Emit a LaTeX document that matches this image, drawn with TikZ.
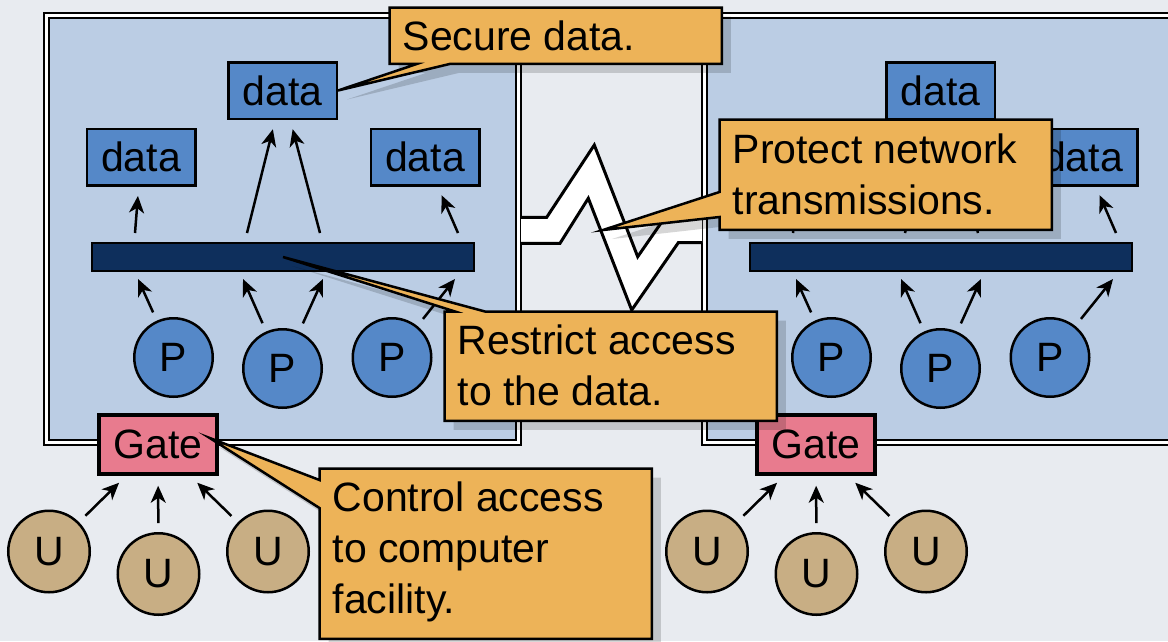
\documentclass[tikz,border=0pt]{standalone}
\usepackage{fontspec}
\setmainfont{Liberation Sans}
\usetikzlibrary{arrows.meta,calc,shadows}
\definecolor{bgc}{HTML}{E8EBF0}
\definecolor{boxblue}{HTML}{BBCDE4}
\definecolor{datablue}{HTML}{5588C8}
\definecolor{barnavy}{HTML}{0E2F5C}
\definecolor{gatepink}{HTML}{E87B8E}
\definecolor{usertan}{HTML}{C8AE84}
\definecolor{callorange}{HTML}{EDB358}
\pgfdeclarelayer{callouts}
\pgfdeclarelayer{callouttext}
\pgfsetlayers{main,callouts,callouttext}
\begin{document}
\begin{tikzpicture}[x=1pt,y=-1pt,
  every node/.style={font=\fontsize{41}{51}\selectfont},
  frame/.style={draw=black, double=white, double distance=3pt, line width=2pt},
  databox/.style={draw=black, line width=2.5pt, fill=datablue, minimum width=108.5pt, minimum height=56.5pt, inner sep=0pt},
  proc/.style={circle, draw=black, line width=2.5pt, fill=datablue, minimum size=78.5pt, inner sep=0pt},
  user/.style={circle, draw=black, line width=2.5pt, fill=usertan, minimum size=81.5pt, inner sep=0pt},
  gatebox/.style={draw=black, line width=3.5pt, fill=gatepink, minimum width=118pt, minimum height=59pt, inner sep=0pt},
  busbar/.style={draw=black, line width=2pt, fill=barnavy, minimum width=382pt, minimum height=28pt, inner sep=0pt},
  arr/.style={line width=2.5pt, -{Stealth[length=17pt,width=15pt,inset=5pt]}},
  zzline/.style={draw=black, line width=3pt, line join=miter},
  calltext/.style={anchor=north west, inner xsep=13pt, inner ysep=0pt, text height=42.5pt},
  callshape/.style={draw=black, line width=2.5pt, fill=callorange, line join=miter,
    drop shadow={shadow xshift=9pt, shadow yshift=-9pt, fill=black, opacity=0.16}}
]
\fill[bgc] (0,0) rectangle (1168,641);
\useasboundingbox (0,0) rectangle (1168,641);

\foreach \s/\dx in {L/0,R/658}{
  \begin{scope}[xshift=\dx pt]
    \fill[boxblue] (46.5,15.5) rectangle (518.5,442);
    \draw[frame] (46.5,15.5) rectangle (518.5,442);
    \node[databox] (\s-d2) at (282.5,90.5) {data};
    \node[databox] (\s-d3) at (425,157) {data};
    \node[busbar] (\s-bar) at (283,257) {};
    \coordinate (\s-s1) at (135,233);
    \coordinate (\s-s2) at (247,233);
    \coordinate (\s-s3) at (320,233);
    \coordinate (\s-s4) at (458,233);
    \draw[arr, shorten >=9.5pt] (\s-s2) -- (\s-d2);
    \draw[arr, shorten >=9.5pt] (\s-s3) -- (\s-d2);
    \draw[arr, shorten >=9.5pt] (\s-s4) -- (\s-d3);
    \node[proc] (\s-p1) at (173.5,357.5) {P};
    \node[proc] (\s-p2) at (282.5,368.5) {P};
    \node[proc] (\s-p3) at (392,357.5) {P};
    \coordinate (\s-t1) at (138,279);
    \coordinate (\s-t2) at (243,279);
    \coordinate (\s-t3) at (323,279);
    \coordinate (\s-t4) at (455,279);
    \draw[arr, shorten <=9pt] (\s-p1) -- (\s-t1);
    \draw[arr, shorten <=9pt] (\s-p2) -- (\s-t2);
    \draw[arr, shorten <=9pt] (\s-p2) -- (\s-t3);
    \draw[arr, shorten <=9pt] (\s-p3) -- (\s-t4);
    \node[gatebox] (\s-g) at (158,444.5) {Gate};
    \node[user] (\s-u1) at (49,551.5) {U};
    \node[user] (\s-u2) at (158.5,574) {U};
    \node[user] (\s-u3) at (268,551.5) {U};
    \draw[arr, shorten <=9pt, shorten >=10pt] (\s-u1) -- (\s-g);
    \draw[arr, shorten <=9pt, shorten >=10pt] (\s-u2) -- (\s-g);
    \draw[arr, shorten <=9pt, shorten >=10pt] (\s-u3) -- (\s-g);
  \end{scope}
}
% left-hand data store (its right-hand twin is hidden under a callout)
\node[databox] (L-d1) at (141,157) {data};
\draw[arr, shorten >=9.5pt] (L-s1) -- (L-d1);
\coordinate (R-e1) at (796,197);
\draw[arr] (R-s1) -- (R-e1);

% network link with lightning zigzag
\fill[white] (521,217.3) -- (546.7,217.3) -- (594.3,145) -- (637.7,256.7) -- (665,217.3) -- (702,217.3)
  -- (702,242.7) -- (678.3,242.7) -- (631.7,310) -- (588.3,198.3) -- (560,243.3) -- (521,243.3) -- cycle;
\draw[zzline] (521,217.3) -- (546.7,217.3) -- (594.3,145) -- (637.7,256.7) -- (665,217.3) -- (702,217.3);
\draw[zzline] (521,243.3) -- (560,243.3) -- (588.3,198.3) -- (631.7,310) -- (678.3,242.7) -- (702,242.7);
\coordinate (zz) at (603,230);
\coordinate (gtip) at ($(L-g.east)+(-9,-6.5)$);

% callout texts
\begin{pgfonlayer}{callouttext}
  \node[calltext, text depth=13.5pt] (c1) at (389.5,7.5) {\parbox[t]{306pt}{\raggedright Secure data.}};
  \node[calltext, text height=43.5pt, text depth=66.5pt] (c2) at (719.5,119.5) {\parbox[t]{306pt}{\raggedright Protect network\\transmissions.}};
  \node[calltext, text depth=66.5pt] (c3) at (444.5,311.5) {\parbox[t]{306pt}{\raggedright Restrict access\\to the data.}};
  \node[calltext, text depth=127.5pt] (c4) at (319.5,468.5) {\parbox[t]{306pt}{\raggedright Control access\\to computer\\facility.}};
\end{pgfonlayer}

% callout shapes
\begin{pgfonlayer}{callouts}
  \draw[callshape] (c1.north west) -- (c1.north east) -- (c1.south east)
    -- ($(c1.south west)+(60.5,0)$) -- (L-d2.east) -- ($(c1.south west)+(27.5,0)$)
    -- (c1.south west) -- cycle;
  \draw[callshape] (c2.north west) -- (c2.north east) -- (c2.south east) -- (c2.south west)
    -- ($(c2.north west)+(0,97.5)$) -- (zz) -- ($(c2.north west)+(0,72.5)$) -- cycle;
  \draw[callshape] (c3.north west) -- ($(c3.north west)+(10.5,0)$) -- (L-bar.center)
    -- ($(c3.north west)+(40.5,0)$) -- (c3.north east) -- (c3.south east) -- (c3.south west) -- cycle;
  \draw[callshape] (c4.north west) -- (c4.north east) -- (c4.south east) -- (c4.south west)
    -- ($(c4.north west)+(0,39.5)$) -- (gtip) -- ($(c4.north west)+(0,11.5)$) -- cycle;
\end{pgfonlayer}
\end{tikzpicture}
\end{document}
